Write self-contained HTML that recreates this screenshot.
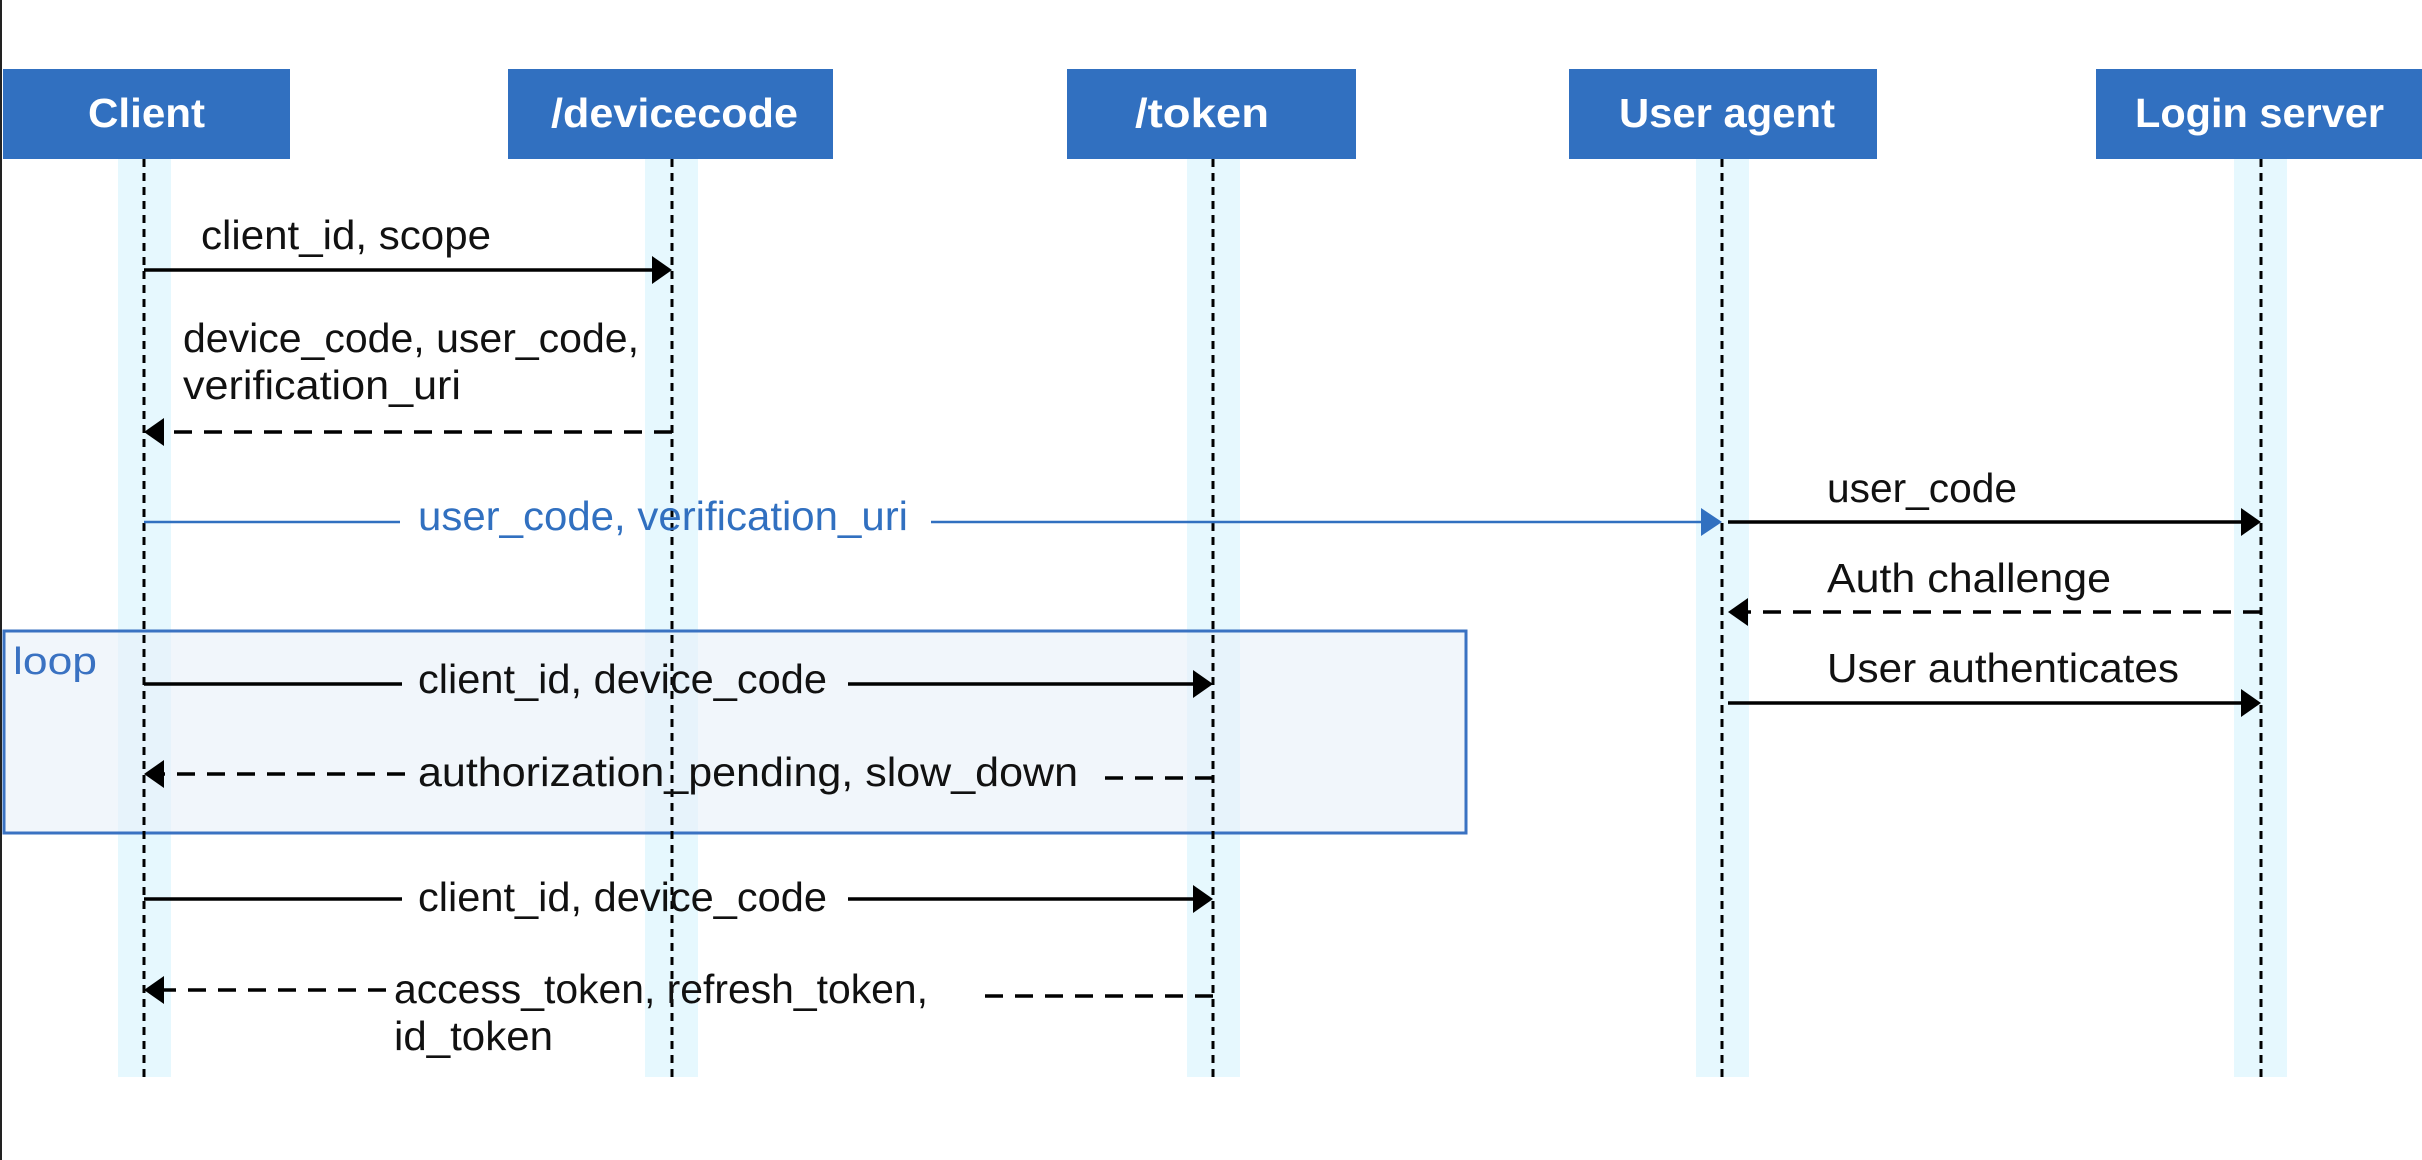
<!DOCTYPE html>
<html><head><meta charset="utf-8"><style>
html,body{margin:0;padding:0;background:#fff;}
svg{display:block;}
text{font-family:"Liberation Sans",sans-serif;}
</style></head><body>
<svg width="2422" height="1160" viewBox="0 0 2422 1160" xmlns="http://www.w3.org/2000/svg">
<rect width="2422" height="1160" fill="#fff"/>
<line x1="1" y1="0" x2="1" y2="1160" stroke="#222" stroke-width="2"/>
<g fill="#e6f8fe">
<rect x="118" y="159" width="53" height="918"/>
<rect x="645" y="159" width="53" height="918"/>
<rect x="1187" y="159" width="53" height="918"/>
<rect x="1696" y="159" width="53" height="918"/>
<rect x="2234" y="159" width="53" height="918"/>
</g>
<rect x="4" y="631" width="1462" height="202" fill="#e8f0f8" fill-opacity="0.6" stroke="#3a72c2" stroke-width="3"/>
<text x="13" y="674" font-size="38" fill="#3a72c2" textLength="84" lengthAdjust="spacingAndGlyphs">loop</text>
<g stroke="#000" stroke-width="3" stroke-dasharray="8,6">
<line x1="144" y1="159" x2="144" y2="1077"/>
<line x1="672" y1="159" x2="672" y2="1077"/>
<line x1="1213" y1="159" x2="1213" y2="1077"/>
<line x1="1722" y1="159" x2="1722" y2="1077"/>
<line x1="2261" y1="159" x2="2261" y2="1077"/>
</g>
<g fill="#3170c0">
<rect x="3" y="69" width="287" height="90"/>
<rect x="508" y="69" width="325" height="90"/>
<rect x="1067" y="69" width="289" height="90"/>
<rect x="1569" y="69" width="308" height="90"/>
<rect x="2096" y="69" width="326" height="90"/>
</g>
<g fill="#fff" font-size="41" font-weight="bold" lengthAdjust="spacingAndGlyphs">
<text x="88" y="127" textLength="117" lengthAdjust="spacingAndGlyphs">Client</text>
<text x="551" y="127" textLength="247" lengthAdjust="spacingAndGlyphs">/devicecode</text>
<text x="1135" y="127" textLength="134" lengthAdjust="spacingAndGlyphs">/token</text>
<text x="1619" y="127" textLength="216" lengthAdjust="spacingAndGlyphs">User agent</text>
<text x="2135" y="127" textLength="249" lengthAdjust="spacingAndGlyphs">Login server</text>
</g>
<g font-size="41" fill="#111">
<text x="201" y="249" textLength="290" lengthAdjust="spacingAndGlyphs">client_id, scope</text>
<text x="183" y="352" textLength="456" lengthAdjust="spacingAndGlyphs">device_code, user_code,</text>
<text x="183" y="399" textLength="278" lengthAdjust="spacingAndGlyphs">verification_uri</text>
<text x="1827" y="502" textLength="190" lengthAdjust="spacingAndGlyphs">user_code</text>
<text x="1827" y="592" textLength="284" lengthAdjust="spacingAndGlyphs">Auth challenge</text>
<text x="1827" y="682" textLength="352" lengthAdjust="spacingAndGlyphs">User authenticates</text>
<text x="418" y="693" textLength="409" lengthAdjust="spacingAndGlyphs">client_id, device_code</text>
<text x="418" y="786" textLength="660" lengthAdjust="spacingAndGlyphs">authorization_pending, slow_down</text>
<text x="418" y="911" textLength="409" lengthAdjust="spacingAndGlyphs">client_id, device_code</text>
<text x="394" y="1003" textLength="534" lengthAdjust="spacingAndGlyphs">access_token, refresh_token,</text>
<text x="394" y="1050" textLength="159" lengthAdjust="spacingAndGlyphs">id_token</text>
</g>
<text x="418" y="530" font-size="41" fill="#3170c0" textLength="490" lengthAdjust="spacingAndGlyphs">user_code, verification_uri</text>
<g stroke="#000" stroke-width="3.5">
<line x1="144" y1="270" x2="655" y2="270"/>
<line x1="1728" y1="522" x2="2244" y2="522"/>
<line x1="1728" y1="703" x2="2244" y2="703"/>
<line x1="144" y1="684" x2="402" y2="684"/>
<line x1="848" y1="684" x2="1196" y2="684"/>
<line x1="144" y1="899" x2="402" y2="899"/>
<line x1="848" y1="899" x2="1196" y2="899"/>
</g>
<g stroke="#000" stroke-width="3.5" stroke-dasharray="18,12">
<line x1="672" y1="432" x2="162" y2="432"/>
<line x1="2261" y1="612" x2="1740" y2="612"/>
<line x1="405" y1="774" x2="162" y2="774"/>
<line x1="1213" y1="778" x2="1095" y2="778"/>
<line x1="386" y1="990" x2="162" y2="990"/>
<line x1="1213" y1="996" x2="978" y2="996"/>
</g>
<g stroke="#3170c0" stroke-width="2.5">
<line x1="144" y1="522" x2="400" y2="522"/>
<line x1="931" y1="522" x2="1705" y2="522"/>
</g>
<g fill="#000">
<polygon points="672,270 652,256 652,284"/>
<polygon points="2261,522 2241,508 2241,536"/>
<polygon points="2261,703 2241,689 2241,717"/>
<polygon points="1213,684 1193,670 1193,698"/>
<polygon points="1213,899 1193,885 1193,913"/>
<polygon points="144,432 164,418 164,446"/>
<polygon points="1728,612 1748,598 1748,626"/>
<polygon points="144,774 164,760 164,788"/>
<polygon points="144,990 164,976 164,1004"/>
</g>
<polygon points="1722,522 1701,508 1701,536" fill="#3170c0"/>
</svg>
</body></html>
